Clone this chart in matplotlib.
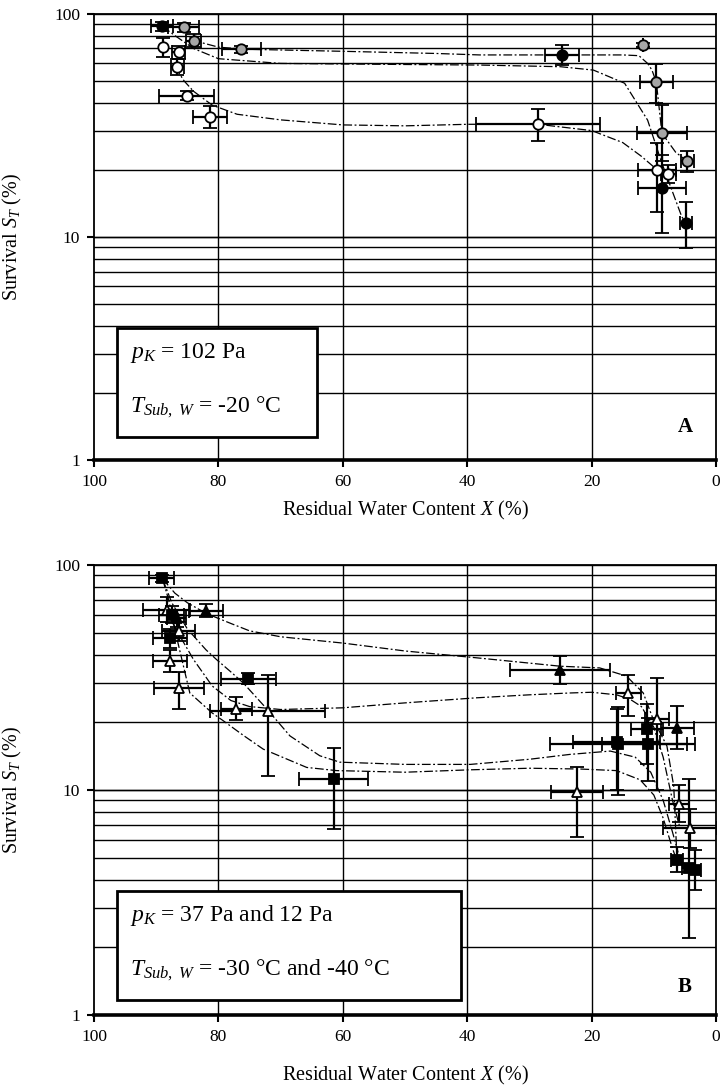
import numpy as np
import matplotlib
matplotlib.use("Agg")
from matplotlib import pyplot as plt
from matplotlib.patches import Rectangle

plt.rcParams['font.family'] = ['Liberation Serif', 'DejaVu Serif']
plt.rcParams['mathtext.fontset'] = 'custom'
plt.rcParams['mathtext.rm'] = 'Liberation Serif'
plt.rcParams['mathtext.it'] = 'Liberation Serif:italic'
plt.rcParams['mathtext.bf'] = 'Liberation Serif:bold'

# ---- panel A : pK = 102 Pa ----
a_black_x = [89.1, 24.8, 8.7, 4.8]
a_black_y = [88, 65.5, 16.5, 11.6]
a_black_xerr = [1.8, 2.7, 3.8, 1.0]
a_black_ylo = [84, 58.8, 10.4, 8.9]
a_black_yhi = [92, 72.6, 23.3, 14.4]

a_grey_x = [85.6, 84.0, 76.3, 11.7, 9.6, 8.7, 4.6]
a_grey_y = [87, 76, 69.5, 72.6, 49.4, 29.2, 21.8]
a_grey_xerr = [2.5, 1.2, 3.2, 0, 2.7, 4.0, 1.0]
a_grey_ylo = [83, 71, 67, 71, 40, 22, 19.5]
a_grey_yhi = [91, 81, 72, 74, 59.6, 39, 24.2]

a_white_x = [88.9, 86.4, 86.6, 85.1, 81.4, 28.6, 9.5, 7.7]
a_white_y = [71.3, 67.8, 58, 42.9, 34.4, 32.1, 20, 19.2]
a_white_xerr = [0, 1.0, 1.0, 4.4, 2.7, 10, 3.0, 1.2]
a_white_ylo = [64, 63, 53, 41, 30.8, 26.8, 13, 17.5]
a_white_yhi = [78, 72, 63, 45, 38.5, 37.5, 26.4, 21]

# trend curves
a_fit1_x = [86, 84, 80, 76, 60, 45, 38, 25, 15, 12.4, 11, 10.3, 9.6, 8.7, 6.5, 4.6]
a_fit1_y = [86, 76, 71, 69.5, 68, 66.5, 65.5, 65.5, 65.5, 65, 60, 56, 49.4, 29.2, 24, 21.8]
a_fit2_x = [89, 87, 84, 80, 70, 55, 38, 25, 19.7, 14.7, 11, 8.7, 5.5, 4.8]
a_fit2_y = [88, 80, 70, 63, 60, 59.5, 59, 58, 56, 48.9, 33.4, 21.4, 12.3, 11.6]
a_fit3_x = [87, 85.5, 84, 81, 77, 70, 60, 50, 40, 29, 20, 15, 12, 10, 8.5]
a_fit3_y = [58, 50, 45, 39, 35.5, 33.5, 31.8, 31.5, 32, 32.1, 30, 26.5, 23, 20.6, 19]

# ---- panel B : pK = 37 Pa and 12 Pa ----
b_sq_x = [89.1, 87.5, 87.8, 75.2, 61.5, 15.7, 16.0, 11.1, 10.9, 6.3, 4.4, 3.4]
b_sq_y = [87.3, 60, 47.4, 31.2, 11.2, 16, 16.3, 18.6, 16, 4.9, 4.5, 4.4]
b_sq_xerr = [2, 2, 2.7, 4.4, 5.5, 11, 7, 2.5, 7.5, 1, 1, 1]
b_sq_ylo = [84, 55, 43, 29.5, 6.7, 9.5, 10, 13, 11, 4.3, 2.2, 3.6]
b_sq_yhi = [90, 66, 52, 33, 15.3, 23.5, 23, 24, 21, 5.6, 11.2, 5.4]

b_tri_x = [86.7, 82.0, 25.1, 6.2]
b_tri_y = [58, 62.8, 34.3, 18.8]
b_tri_xerr = [1.5, 2.8, 8.1, 2.7]
b_tri_ylo = [53, 59, 29.7, 15.2]
b_tri_yhi = [63, 67, 39.5, 23.6]

b_open_x = [88.3, 86.4, 87.8, 86.4, 77.1, 72.1, 22.4, 14.1, 9.5, 5.9, 4.2]
b_open_y = [63, 50.7, 37.3, 28.5, 23, 22.4, 9.8, 27, 20.6, 8.7, 6.8]
b_open_xerr = [3.8, 2.7, 2.8, 4.0, 2.5, 9.2, 4.2, 2.0, 2.0, 1.6, 4.4]
b_open_ylo = [56, 46, 33.3, 22.9, 20.5, 11.5, 6.2, 21.3, 10, 7.2, 5.5]
b_open_yhi = [72, 56, 42, 33.3, 26, 32.6, 12.7, 32.6, 31.5, 10.5, 8.2]

b_fit1_x = [89, 87, 85, 82, 78, 75, 70, 60, 50, 38.5, 25, 18.7, 14.4, 11.7, 10.1, 7.9, 6.8, 6.3]
b_fit1_y = [87, 75, 68, 61, 55, 51, 48, 45, 41.5, 38.7, 35.5, 34.9, 32.1, 27, 20.6, 15.7, 10.4, 5.1]
b_fit2_x = [88.5, 86.5, 84, 81, 78, 75, 70, 60, 50, 38.5, 30, 23.5, 20, 16, 13.8, 12, 10, 8.5, 7, 5.8]
b_fit2_y = [63, 50, 38, 29, 25, 23.5, 22.8, 23.2, 24.4, 25.7, 26.5, 27, 27.2, 26.5, 25.3, 23.5, 19, 14, 9, 6.8]
b_fit3_x = [89, 87.5, 85, 82, 80.3, 78, 76, 72.2, 68.5, 63.7, 60.5, 50, 39.5, 30, 23.5, 17, 13, 10.5, 8.5, 7, 5.5]
b_fit3_y = [87, 68, 52, 42, 38, 33.5, 29.9, 22.9, 17.4, 14.2, 13.3, 13.0, 13.0, 13.7, 14.4, 14.9, 14.0, 12, 9, 6.5, 4.6]
b_fit4_x = [89, 88, 86.5, 84.6, 81, 79.2, 76, 72.8, 65.8, 61, 50, 39.5, 30, 21.9, 16, 12.2, 10, 8.5, 7, 6]
b_fit4_y = [87, 70, 45, 27, 22, 20.3, 17.5, 15.2, 12.6, 12.2, 12.0, 12.3, 12.5, 12.4, 12.2, 11.1, 9.5, 7.5, 5.5, 4.6]

x_ticks = [100, 80, 60, 40, 20, 0]

fig = plt.figure(figsize=(7.2, 10.9), dpi=100)
axA = fig.add_axes([0.1306, 0.578, 0.8639, 0.4092])
axB = fig.add_axes([0.1306, 0.0688, 0.8639, 0.4128])


def pts(x, y, xerr, ylo, yhi, marker, face, ax):
	y = np.array(y)
	yerr = [y - np.array(ylo), np.array(yhi) - y]
	ax.errorbar(x, y, xerr=xerr, yerr=yerr, fmt=marker, ms=7.5, mfc=face, mec='black',
				mew=1.3, ecolor='black', elinewidth=1.6, capsize=5, capthick=1.6, zorder=4)


def setup(ax, boxtxt, boxw, letter, xlab_y):
	ax.set_yscale('log')
	ax.set_xlim(100, 0)
	ax.set_ylim(1, 100)
	ax.set_xticks(x_ticks)
	ax.set_xticklabels([str(v) for v in x_ticks])
	ax.set_yticks([1, 10, 100])
	ax.set_yticklabels(['1', '10', '100'])
	ax.yaxis.set_minor_formatter(plt.NullFormatter())
	ax.tick_params(which='minor', length=0)
	ax.tick_params(which='major', direction='out', length=5, width=1.5, labelsize=12.5, pad=5)
	for d in [1, 10]:
		for m in range(1, 11):
			ax.axhline(d * m, color='black', lw=1.0, zorder=1)
	for v in [80, 60, 40, 20]:
		ax.axvline(v, color='black', lw=1.0, zorder=1)
	for s in ax.spines.values():
		s.set_linewidth(1.3)
	ax.spines['bottom'].set_linewidth(2.6)
	ax.set_xlabel(r'Residual Water Content $X$ (%)', fontsize=14.5)
	ax.xaxis.set_label_coords(0.5, xlab_y)
	ax.set_ylabel(r'Survival $S_T$ (%)', fontsize=14.5)
	ax.yaxis.set_label_coords(-0.112, 0.5)
	ax.add_patch(Rectangle((boxtxt[0][0], boxtxt[0][1]), boxw[0], boxw[1], transform=ax.transAxes,
						   facecolor='white', edgecolor='black', lw=2, zorder=6))
	for (tx, ty, s) in boxtxt[1:]:
		ax.text(tx, ty, s, transform=ax.transAxes, fontsize=17, va='center', ha='left', zorder=7)
	ax.text(0.95, letter[1], letter[0], transform=ax.transAxes, fontsize=15, fontweight='bold',
			ha='center', va='center', zorder=7)


ls = (0, (7, 2, 1.5, 2))
for fx, fy in [(a_fit1_x, a_fit1_y), (a_fit2_x, a_fit2_y), (a_fit3_x, a_fit3_y)]:
	axA.plot(fx, fy, color='black', lw=0.9, ls=ls, zorder=3)
pts(a_white_x, a_white_y, a_white_xerr, a_white_ylo, a_white_yhi, 'o', 'white', axA)
pts(a_grey_x, a_grey_y, a_grey_xerr, a_grey_ylo, a_grey_yhi, 'o', '#a6a6a6', axA)
pts(a_black_x, a_black_y, a_black_xerr, a_black_ylo, a_black_yhi, 'o', 'black', axA)
setup(axA, [(0.037, 0.052), (0.058, 0.24, r'$p_K$ = 102 Pa'), (0.058, 0.117, r'$T_{Sub,\ W}$ = -20 °C')],
	  (0.322, 0.244), ('A', 0.074), -0.088)

for fx, fy in [(b_fit1_x, b_fit1_y), (b_fit2_x, b_fit2_y), (b_fit3_x, b_fit3_y), (b_fit4_x, b_fit4_y)]:
	axB.plot(fx, fy, color='black', lw=0.9, ls=ls, zorder=3)
pts(b_open_x, b_open_y, b_open_xerr, b_open_ylo, b_open_yhi, '^', 'white', axB)
pts(b_sq_x, b_sq_y, b_sq_xerr, b_sq_ylo, b_sq_yhi, 's', 'black', axB)
pts(b_tri_x, b_tri_y, b_tri_xerr, b_tri_ylo, b_tri_yhi, '^', 'black', axB)
setup(axB, [(0.037, 0.033), (0.058, 0.222, r'$p_K$ = 37 Pa and 12 Pa'),
			(0.058, 0.1, r'$T_{Sub,\ W}$ = -30 °C and -40 °C')],
	  (0.553, 0.243), ('B', 0.062), -0.108)

plt.savefig("out.png", dpi=100)
